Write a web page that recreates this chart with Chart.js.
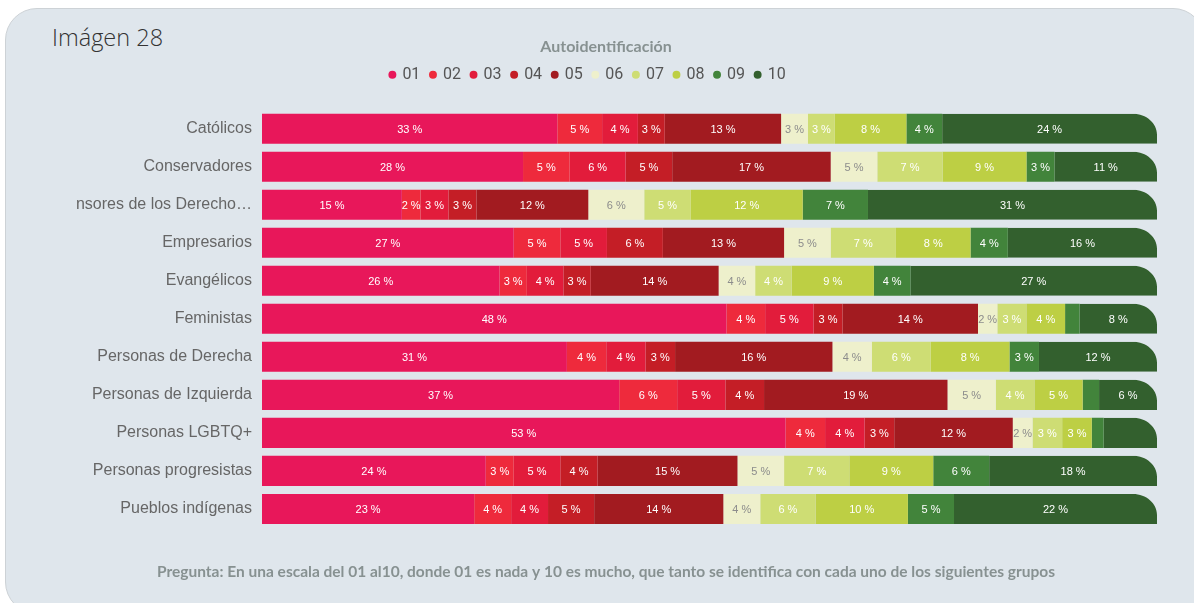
<!DOCTYPE html>
<html lang="es">
<head>
<meta charset="utf-8">
<title>Imágen 28</title>
<script src="https://cdn.jsdelivr.net/npm/chart.js@4.4.1/dist/chart.umd.min.js"></script>
<style>
  html, body { margin: 0; padding: 0; background: #fff; }
  body { width: 1194px; height: 603px; position: relative; overflow: hidden; }
  .tarjeta {
    position: absolute; left: 5px; top: 8px; width: 1200px; height: 606px;
    background: #dfe6ec; border: 1px solid #cdd2d6; border-radius: 32px; box-sizing: border-box;
  }
  .rotulo {
    position: absolute; left: 52px; top: 21px;
    font-family: 'Open Sans', sans-serif; font-weight: 300; font-size: 23.5px; color: #333;
  }
  #grafico { position: absolute; left: 0; top: 0; }
</style>
</head>
<body>
<div class="tarjeta"></div>
<div class="rotulo">Imágen 28</div>
<canvas id="grafico" width="1194" height="603"></canvas>
<script>
// ===== DATOS =====
const categorias = [
  'Católicos', 'Conservadores', 'nsores de los Derecho…', 'Empresarios', 'Evangélicos',
  'Feministas', 'Personas de Derecha', 'Personas de Izquierda', 'Personas LGBTQ+',
  'Personas progresistas', 'Pueblos indígenas'
];
const escala = ['01', '02', '03', '04', '05', '06', '07', '08', '09', '10'];

const s01 = [33, 28, 15, 27, 26, 48, 31, 37, 53, 24, 23];
const s02 = [5, 5, 2, 5, 3, 4, 4, 6, 4, 3, 4];
const s03 = [4, 6, 3, 5, 4, 5, 4, 5, 4, 5, 4];
const s04 = [3, 5, 3, 6, 3, 3, 3, 4, 3, 4, 5];
const s05 = [13, 17, 12, 13, 14, 14, 16, 19, 12, 15, 14];
const s06 = [3, 5, 6, 5, 4, 2, 4, 5, 2, 5, 4];
const s07 = [3, 7, 5, 7, 4, 3, 6, 4, 3, 7, 6];
const s08 = [8, 9, 12, 8, 9, 4, 8, 5, 3, 9, 10];
const s09 = [4, 3, 7, 4, 4, 1.5, 3, 1.7, 1.2, 6, 5];
const s10 = [24, 11, 31, 16, 27, 8, 12, 6, 5.4, 18, 22];

// segmentos sin etiqueta en el original: [fila, serie]
const sinEtiqueta = [[8, 9]];

const series = [s01, s02, s03, s04, s05, s06, s07, s08, s09, s10];
const colores = ['#e8175a', '#ee2a3c', '#e21c3b', '#c41e26', '#a21b20',
                 '#eef0cc', '#cedd74', '#bdcf44', '#42843b', '#33602e'];

// cada fila se normaliza a 100 %
const totales = categorias.map((_, i) => series.reduce((s, arr) => s + arr[i], 0));

// ===== PLUGINS =====
const esquinaRedonda = {
  id: 'esquinaRedonda',
  beforeDatasetDraw(chart, args) {
    if (args.index !== 9) return;
    const ctx = chart.ctx;
    ctx.save();
    ctx.beginPath();
    args.meta.data.forEach(bar => {
      const { x, y, base, height } = bar.getProps(['x', 'y', 'base', 'height'], true);
      const arriba = y - height / 2, abajo = y + height / 2;
      const rx = 24, ry = 21, k = 0.552;
      ctx.moveTo(base - 1, arriba);
      ctx.lineTo(x - rx, arriba);
      ctx.bezierCurveTo(x - rx + rx * k, arriba, x, arriba + ry - ry * k, x, arriba + ry);
      ctx.lineTo(x, abajo);
      ctx.lineTo(base - 1, abajo);
      ctx.closePath();
    });
    ctx.clip();
  },
  afterDatasetDraw(chart, args) {
    if (args.index === 9) chart.ctx.restore();
  }
};

const etiquetas = {
  id: 'etiquetas',
  afterDatasetsDraw(chart) {
    const ctx = chart.ctx;
    ctx.save();
    ctx.font = '11px "Liberation Sans", Arial, sans-serif';
    ctx.textAlign = 'center';
    ctx.textBaseline = 'middle';
    series.forEach((serie, d) => {
      chart.getDatasetMeta(d).data.forEach((bar, i) => {
        if (sinEtiqueta.some(([f, s]) => f === i && s === d)) return;
        const txt = Math.round(serie[i]) + ' %';
        const ancho = bar.x - bar.base;
        if (ancho < ctx.measureText(txt).width - 2) return;
        ctx.fillStyle = d === 5 ? '#8c8c8c' : '#ffffff';
        ctx.fillText(txt, (bar.x + bar.base) / 2, bar.y + 1);
      });
    });
    ctx.restore();
  }
};

const ajusteLeyenda = {
  id: 'ajusteLeyenda',
  beforeInit(chart) {
    const fitOriginal = chart.legend.fit;
    chart.legend.fit = function () {
      fitOriginal.bind(chart.legend)();
      this.height += 17;
    };
  },
  afterLayout(chart) {
    chart.legend.left -= 18;
    chart.legend.right -= 18;
  }
};

// ===== GRAFICO =====
new Chart(document.getElementById('grafico'), {
  type: 'bar',
  data: {
    labels: categorias,
    datasets: series.map((serie, d) => ({
      label: escala[d],
      data: serie.map((v, i) => v / totales[i] * 100),
      backgroundColor: colores[d],
      borderWidth: 0,
      barPercentage: 1,
      categoryPercentage: 0.79
    }))
  },
  options: {
    indexAxis: 'y',
    responsive: false,
    devicePixelRatio: 1,
    animation: false,
    layout: { padding: { left: 55, right: 37, top: 28, bottom: 20 } },
    scales: {
      x: { stacked: true, min: 0, max: 100, display: false },
      y: {
        stacked: true,
        grid: { display: false, drawTicks: false },
        border: { display: false },
        ticks: {
          color: '#666',
          padding: 10,
          font: { family: '"Liberation Sans", Arial, sans-serif', size: 16 }
        },
        afterFit(scale) { scale.width = 207; }
      }
    },
    plugins: {
      title: {
        display: true,
        text: 'Autoidentificación',
        color: '#879191',
        font: { family: 'Lato', size: 16, weight: 'bold' },
        padding: { top: 9, bottom: 0 }
      },
      subtitle: {
        display: true,
        position: 'bottom',
        text: 'Pregunta: En una escala del 01 al10, donde 01 es nada y 10 es mucho, que tanto se identifica con cada uno de los siguientes grupos',
        color: '#879191',
        font: { family: 'Lato', size: 15.5, weight: 'bold' },
        padding: { top: 34.5, bottom: 2 }
      },
      legend: {
        position: 'top',
        labels: {
          usePointStyle: true,
          pointStyle: 'circle',
          boxWidth: 4,
          boxHeight: 5.6,
          padding: 10.6,
          color: '#555',
          font: { family: 'Roboto', size: 16 }
        }
      },
      tooltip: { enabled: false }
    }
  },
  plugins: [esquinaRedonda, etiquetas, ajusteLeyenda]
});
</script>
</body>
</html>
